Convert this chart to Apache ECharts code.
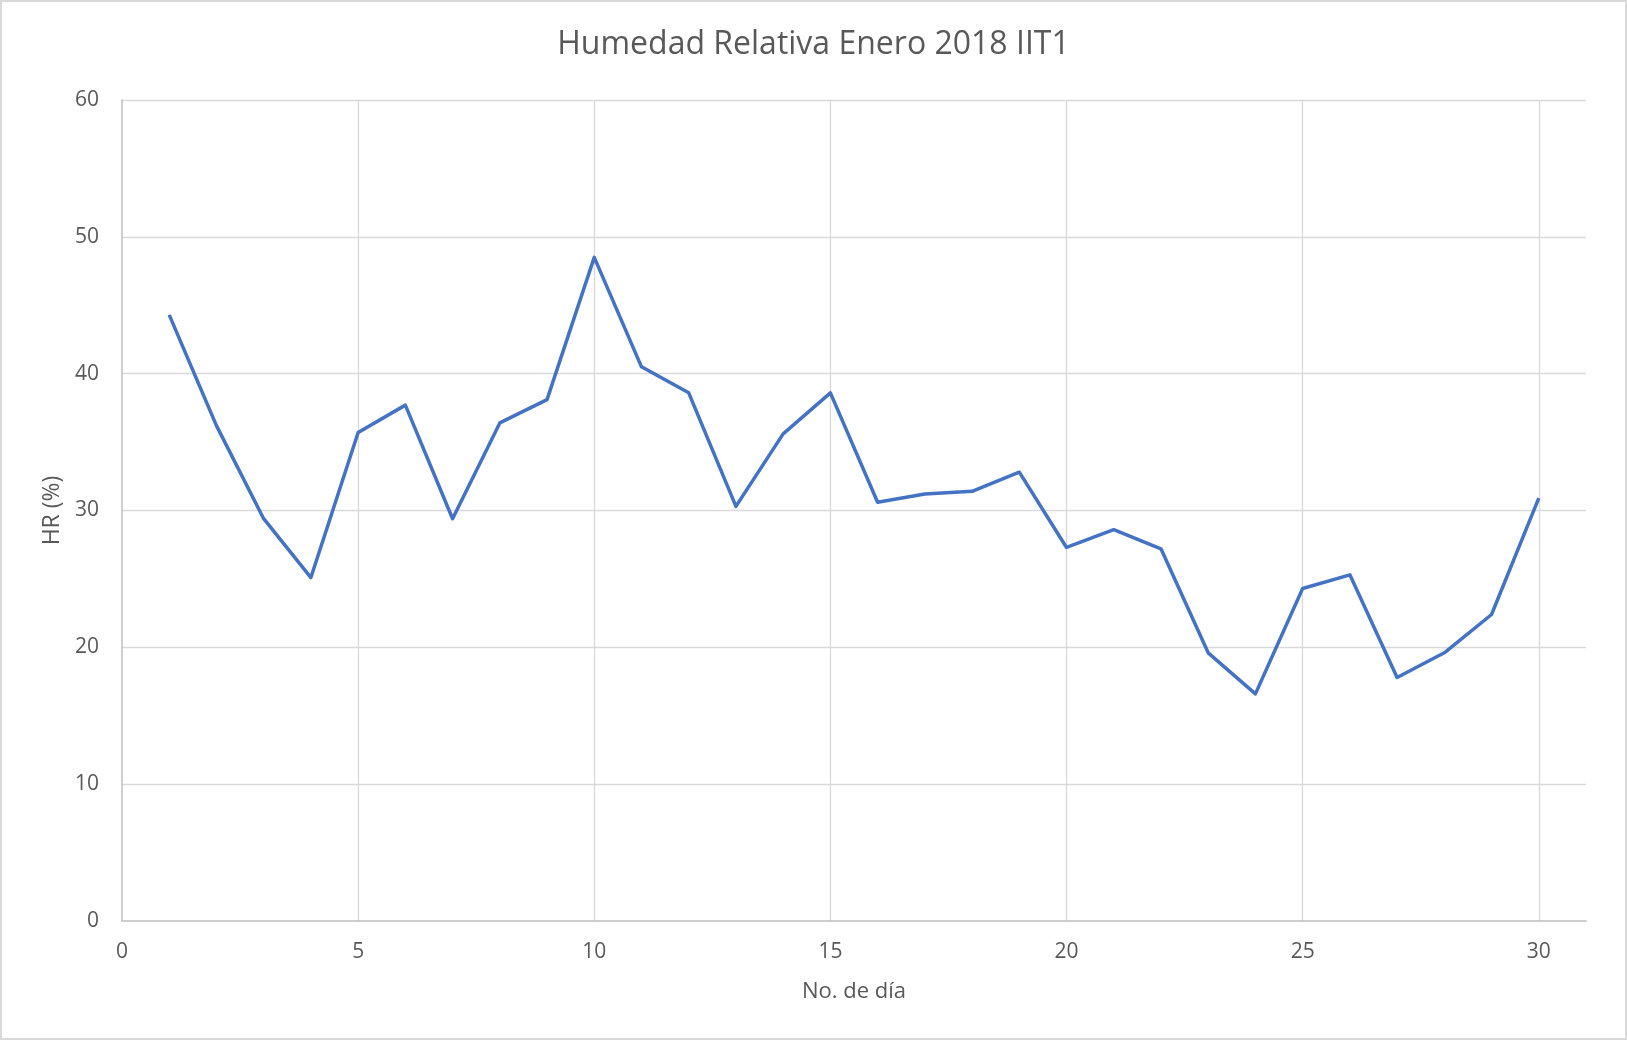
<!DOCTYPE html>
<html>
<head>
<meta charset="utf-8">
<script src="https://cdn.jsdelivr.net/npm/echarts@6/dist/echarts.min.js"></script>
<style>
  html, body { margin: 0; padding: 0; background: #ffffff; }
  #chart { width: 1627px; height: 1040px; }
</style>
</head>
<body>
<div id="chart"></div>
<script>
const titleText = "Humedad Relativa Enero 2018 IIT1";
const xAxisName = "No. de día";
const yAxisName = "HR (%)";
const days = [1,2,3,4,5,6,7,8,9,10,11,12,13,14,15,16,17,18,19,20,21,22,23,24,25,26,27,28,29,30];
const humidity = [44.3,36.2,29.4,25.1,35.7,37.7,29.4,36.4,38.1,48.5,40.5,38.6,30.3,35.6,38.6,30.6,31.2,31.4,32.8,27.3,28.6,27.2,19.6,16.6,24.3,25.3,17.8,19.6,22.4,30.9];

const fontFamily = '"Open Sans", "Noto Sans", sans-serif';
const textColor = '#595959';

const chart = echarts.init(document.getElementById('chart'), null, { renderer: 'canvas' });
chart.setOption({
  animation: false,
  backgroundColor: '#ffffff',
  title: {
    text: titleText,
    left: 'center',
    top: 24,
    textStyle: { fontFamily: fontFamily, fontSize: 32, fontWeight: 'normal', color: textColor }
  },
  graphic: [{
    type: 'rect',
    shape: { x: 1, y: 1, width: 1625, height: 1038 },
    style: { fill: 'none', stroke: '#d9d9d9', lineWidth: 2 },
    silent: true
  }],
  grid: { left: 122, right: 41, top: 100, bottom: 119, containLabel: false },
  xAxis: {
    type: 'value',
    min: 0,
    max: 31,
    interval: 5,
    name: xAxisName,
    nameLocation: 'middle',
    nameGap: 60,
    nameTextStyle: { fontFamily: fontFamily, fontSize: 22, color: textColor },
    axisLine: { show: true, lineStyle: { color: '#bfbfbf', width: 1.5 } },
    axisTick: { show: false },
    axisLabel: { showMaxLabel: false, margin: 21, fontFamily: fontFamily, fontSize: 21, color: textColor },
    splitLine: { show: true, showMinLine: false, showMaxLine: false, lineStyle: { color: '#d9d9d9', width: 1.3 } }
  },
  yAxis: {
    type: 'value',
    min: 0,
    max: 60,
    interval: 10,
    name: yAxisName,
    nameLocation: 'middle',
    nameGap: 57,
    nameTextStyle: { fontFamily: fontFamily, fontSize: 23, color: textColor },
    axisLine: { show: true, lineStyle: { color: '#bfbfbf', width: 1.5 } },
    axisTick: { show: false },
    axisLabel: { margin: 23, fontFamily: fontFamily, fontSize: 21, color: textColor },
    splitLine: { show: true, showMinLine: false, lineStyle: { color: '#d9d9d9', width: 1.3 } }
  },
  series: [{
    type: 'line',
    data: days.map((d, i) => [d, humidity[i]]),
    showSymbol: false,
    symbol: 'none',
    lineStyle: { color: '#4472C4', width: 3.5, join: 'round' },
    itemStyle: { color: '#4472C4' }
  }]
});
</script>
</body>
</html>
